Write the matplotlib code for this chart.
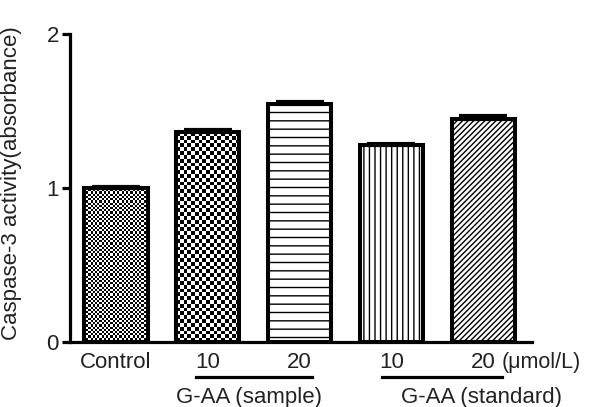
import numpy as np
import matplotlib.pyplot as plt
from matplotlib.transforms import blended_transform_factory

plt.rcParams['font.family'] = ['Liberation Sans', 'DejaVu Sans']
plt.rcParams['hatch.linewidth'] = 1.0

# caspase-3 activity per group
groups = ['Control', 'G-AA 10 (sample)', 'G-AA 20 (sample)', 'G-AA 10 (standard)', 'G-AA 20 (standard)']
values = [1.00, 1.36, 1.545, 1.275, 1.45]
errors = [0.008, 0.014, 0.014, 0.008, 0.014]
tick_text = ['Control', '10', '20', '10', '20']
group_text = ['G-AA (sample)', 'G-AA (standard)']

fig = plt.figure(figsize=(5.93, 4.07), dpi=100)
ax = fig.add_axes([0.118, 0.16, 0.779, 0.757])

x = np.arange(len(values))
width = 0.69
ax.set_xlim(-0.5, 4.53)
ax.set_ylim(0, 2)

# checkerboard fills are painted as images clipped to the bars
textures = ['checker', 'checker', '--', '|||', '//////']
cell_px = [2.2, 3.8, None, None, None]
bars = ax.bar(x, values, width, color='white', edgecolor='black', linewidth=2.9, zorder=2)
for b, tex, cpx in zip(bars, textures, cell_px):
    if tex == 'checker':
        x0, y0 = b.get_x(), 0
        x1, y1 = x0 + b.get_width(), b.get_height()
        p0 = ax.transData.transform((x0, y0))
        p1 = ax.transData.transform((x1, y1))
        nx = max(int(round((p1[0] - p0[0]) / cpx)), 1)
        ny = max(int(round((p1[1] - p0[1]) / cpx)), 1)
        board = (np.indices((ny, nx)).sum(axis=0) % 2).astype(float)
        im = ax.imshow(board, cmap='gray', extent=(x0, x1, y0, y1), origin='lower',
                       interpolation='nearest', aspect='auto', zorder=2.5)
        im.set_clip_path(b)
        # redraw the outline on top of the texture
        ax.bar(b.get_x() + b.get_width() / 2, b.get_height(), width, fill=False,
               edgecolor='black', linewidth=2.9, zorder=3)
    else:
        b.set_hatch(tex)

ax.errorbar(x, values, yerr=[np.zeros(len(errors)), errors], fmt='none',
            ecolor='black', elinewidth=1.5, capsize=17, capthick=3, zorder=4)

for side in ['top', 'right']:
    ax.spines[side].set_visible(False)
for side in ['left', 'bottom']:
    ax.spines[side].set_linewidth(2.3)

ax.set_yticks([0, 1, 2])
ax.tick_params(axis='y', length=6, width=2.3, labelsize=16, pad=2, labelcolor='#222222')
ax.set_xticks([])
ax.set_ylabel('Caspase-3 activity(absorbance)', fontsize=16, color='#222222')
ax.yaxis.set_label_coords(-0.104, 0.515)

trans = blended_transform_factory(ax.transData, ax.transAxes)
for xi, t in zip(x, tick_text):
    ax.annotate(t, xy=(xi, 0), xycoords=trans, xytext=(0, -15), textcoords='offset points',
                ha='center', va='center', fontsize=16, color='#222222')
ax.annotate('(μmol/L)', xy=(4.2, 0), xycoords=trans, xytext=(0, -15), textcoords='offset points',
            ha='left', va='center', fontsize=15.5, color='#222222')

# group underlines and captions
spans = [(0.875, 2.14), (2.90, 4.20)]
centers = [1.45, 3.98]
line_y = -35 / 308
for (a, b), c, t in zip(spans, centers, group_text):
    ax.plot([a, b], [line_y, line_y], color='black', linewidth=2.3, transform=trans, clip_on=False)
    ax.annotate(t, xy=(c, 0), xycoords=trans, xytext=(0, -40), textcoords='offset points',
                ha='center', va='center', fontsize=16, color='#222222')

fig.savefig('out.png', dpi=100)
